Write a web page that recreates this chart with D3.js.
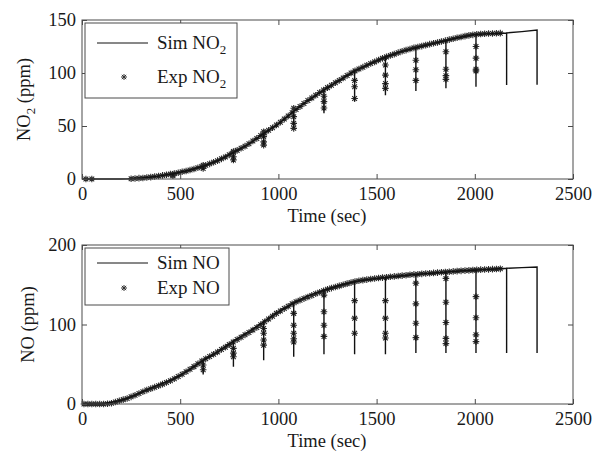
<!DOCTYPE html>
<html>
<head>
<meta charset="utf-8">
<script src="https://cdn.jsdelivr.net/npm/d3@7"></script>
<style>
  body { margin: 0; background: #fff; }
</style>
</head>
<body>
<main></main>
<script>
const width = 592, height = 451;

// x axis (both panels)
const xTicks = [0, 500, 1000, 1500, 2000, 2500];
const yTicksNO2 = [0, 50, 100, 150];
const yTicksNO = [0, 100, 200];

// simulated curves (ppm)
const simTime = [0, 100, 200, 250, 310, 380, 463, 540, 617, 700, 771, 850, 925, 1000, 1078, 1150, 1232, 1310, 1388, 1470, 1545, 1620, 1700, 1780, 1853, 1930, 2006, 2080, 2162, 2240, 2317];
const simNO2 = [0, 0, 0, 0.3, 1, 2.5, 5, 8, 12, 18, 25, 33, 43, 52, 64, 74, 84, 93, 102, 109, 115, 120, 124, 127.5, 130.5, 134, 136.5, 137, 137.8, 139, 140.5];
const simNO = [0, 0, 4.5, 9, 15.5, 23, 31, 42, 55, 67, 79, 91, 103.5, 116, 127, 136, 143, 149, 154, 157, 159, 161, 163, 164.5, 166, 167.5, 168.5, 169.5, 170.7, 171.5, 172.3];

// sampling dips of the simulated line
const dropTime = [310, 463, 617, 771, 925, 1078, 1232, 1388, 1545, 1700, 1853, 2006, 2162, 2317];
const dropNO2 = [0.5, 3, 8.5, 16, 32, 48, 62, 73, 79, 83, 85.5, 87, 88.7, 89];
const dropNO = [15.5, 31, 37, 47, 55, 59.5, 62.5, 62.5, 62.5, 64, 64, 64, 64, 64];

// experimental NO2
const expTimeNO2 = [20, 50, 250, 270, 290, 310, 330, 350, 370, 390, 410, 430, 450, 470, 490, 510, 530, 550, 570, 590, 610, 630, 650, 670, 690, 710, 730, 750, 770, 790, 810, 830, 850, 870, 890, 910, 930, 950, 970, 990, 1010, 1030, 1050, 1070, 1090, 1110, 1130, 1150, 1170, 1190, 1210, 1230, 1250, 1270, 1290, 1310, 1330, 1350, 1370, 1390, 1410, 1430, 1450, 1470, 1490, 1510, 1530, 1550, 1570, 1590, 1610, 1630, 1650, 1670, 1690, 1710, 1730, 1750, 1770, 1790, 1810, 1830, 1850, 1870, 1890, 1910, 1930, 1950, 1970, 1990, 2010, 2030, 2050, 2070, 2090, 2110, 2130];
const expNO2 = [0, 0, 0.3, 0.5, 0.8, 1, 1.4, 1.8, 2.3, 2.8, 3.4, 4, 4.6, 5.2, 5.9, 6.8, 7.6, 8.5, 9.5, 10.6, 11.7, 13, 14.3, 15.8, 17.3, 19, 20.8, 22.8, 24.9, 27, 29, 31, 33.3, 35.8, 38.3, 41, 43.5, 46, 48.3, 51, 53.5, 56.5, 59.5, 62.5, 65.5, 68.3, 71.2, 74, 76.5, 79, 81.5, 84, 86.2, 88.5, 90.8, 93, 95.3, 97.6, 100, 102, 103.8, 105.5, 107.3, 109, 110.5, 112.2, 113.8, 115.2, 116.6, 117.8, 119.2, 120.5, 121.6, 122.7, 123.7, 124.5, 125.4, 126.3, 127.2, 128, 128.8, 129.7, 130.5, 131.5, 132.3, 133.2, 134, 134.8, 135.5, 136, 136.5, 136.8, 137, 137.2, 137.3, 137.5, 137.6];
// experimental NO2 taken during the dips
const dipTimeNO2 = [463, 463, 617, 617, 771, 771, 771, 925, 925, 925, 925, 1078, 1078, 1078, 1078, 1232, 1232, 1232, 1388, 1388, 1388, 1545, 1545, 1545, 1545, 1700, 1700, 1700, 1853, 1853, 1853, 1853, 2006, 2006, 2006, 2006];
const dipNO2 = [4, 3, 13, 10, 26, 21, 18, 44.6, 40, 35, 32, 66.7, 58.8, 52.5, 47.8, 78, 73, 67, 93, 87, 76, 107.5, 98, 90, 85.5, 112, 103, 93, 120, 103.6, 97.5, 94, 125, 114, 103.6, 102];

// experimental NO
const expTimeNO = [10, 30, 50, 70, 90, 110, 130, 150, 170, 190, 210, 230, 250, 270, 290, 310, 330, 350, 370, 390, 410, 430, 450, 470, 490, 510, 530, 550, 570, 590, 610, 630, 650, 670, 690, 710, 730, 750, 770, 790, 810, 830, 850, 870, 890, 910, 930, 950, 970, 990, 1010, 1030, 1050, 1070, 1090, 1110, 1130, 1150, 1170, 1190, 1210, 1230, 1250, 1270, 1290, 1310, 1330, 1350, 1370, 1390, 1410, 1430, 1450, 1470, 1490, 1510, 1530, 1550, 1570, 1590, 1610, 1630, 1650, 1670, 1690, 1710, 1730, 1750, 1770, 1790, 1810, 1830, 1850, 1870, 1890, 1910, 1930, 1950, 1970, 1990, 2010, 2030, 2050, 2070, 2090, 2110, 2130];
const expNO = [0, 0, 0, 0, 0, 0, 0.3, 1, 2.5, 4, 5.5, 7, 9, 11, 13.3, 15.5, 17.5, 19.3, 21.2, 23, 25, 27, 29.3, 31.8, 34.5, 37.5, 40.5, 43.8, 47, 50.5, 54, 57, 59.8, 62.5, 65.5, 68.5, 71.5, 74.7, 78, 81, 84, 87, 90, 93, 96.3, 99.8, 103.5, 107, 110.5, 114, 117, 120, 123, 126, 128.5, 130.6, 132.6, 134.6, 136.6, 138.6, 140.5, 142.5, 144.2, 145.8, 147.2, 148.6, 150, 151.4, 152.7, 154, 155, 155.8, 156.5, 157.2, 157.8, 158.4, 159, 159.5, 160, 160.5, 161, 161.5, 162, 162.5, 163, 163.3, 163.7, 164.1, 164.5, 164.9, 165.3, 165.7, 166, 166.4, 166.8, 167.2, 167.5, 167.8, 168.1, 168.4, 168.7, 169, 169.2, 169.4, 169.6, 169.8, 170];
const dipTimeNO = [617, 617, 771, 771, 771, 925, 925, 925, 925, 1078, 1078, 1078, 1078, 1078, 1232, 1232, 1232, 1232, 1388, 1388, 1388, 1545, 1545, 1545, 1545, 1700, 1700, 1700, 1700, 1853, 1853, 1853, 1853, 1853, 2006, 2006, 2006, 2006];
const dipNO = [49, 43, 70, 64, 59.5, 95, 89, 80.5, 74, 114, 99, 89, 82, 78, 137, 116, 99, 85, 130, 108, 89, 130, 108, 89, 83, 152, 126, 101.5, 83.5, 158, 128, 102.5, 82.5, 76, 135, 108.5, 87, 78.5];

const svg = d3.select("main").append("svg")
    .attr("width", width)
    .attr("height", height)
    .style("font-family", "'Liberation Serif', 'Times New Roman', serif");

const fontSize = 18.5;
const font = "'Liberation Serif', 'Times New Roman', serif";
const frameColor = "#4a4a4a";
const textColor = "#1a1a1a";

function asterisk(r) {
  const a = r * 0.72;
  return "M0," + (-r) + "V" + r + "M" + (-r) + ",0H" + r +
      "M" + (-a) + "," + (-a) + "L" + a + "," + a +
      "M" + (-a) + "," + a + "L" + a + "," + (-a);
}

function drawPanel(p) {
  const x = d3.scaleLinear().domain([0, 2500]).range([82, 573]);
  const y = d3.scaleLinear().domain([0, p.yMax]).range([p.bottom, p.top]);
  const g = svg.append("g");

  // sim line with its dips
  const pts = [];
  simTime.forEach(function (t, i) {
    pts.push([t, p.sim[i]]);
    const k = dropTime.indexOf(t);
    if (k >= 0) {
      pts.push([t, p.drops[k]]);
      if (i < simTime.length - 1) pts.push([t, p.sim[i]]);
    }
  });
  const line = d3.line().x(d => x(d[0])).y(d => y(d[1]));

  // experimental asterisks
  const exp = p.expT.map((t, i) => [t, p.expV[i]])
      .concat(p.dipT.map((t, i) => [t, p.dipV[i]]));
  g.append("g").selectAll("path").data(exp).enter().append("path")
      .attr("d", asterisk(3.3))
      .attr("transform", d => "translate(" + x(d[0]) + "," + y(d[1]) + ")")
      .attr("fill", "none")
      .attr("stroke", "#2a2a2a")
      .attr("stroke-width", 1.1);

  g.append("path")
      .attr("d", line(pts))
      .attr("fill", "none")
      .attr("stroke", "#111")
      .attr("stroke-width", 1.4);

  // frame + inward ticks
  const fmt = d3.format("d");
  const xb = g.append("g").attr("transform", "translate(0," + p.bottom + ")")
      .call(d3.axisBottom(x).tickValues(xTicks).tickFormat(fmt).tickSizeInner(-5).tickSizeOuter(0).tickPadding(8));
  const xt = g.append("g").attr("transform", "translate(0," + p.top + ")")
      .call(d3.axisTop(x).tickValues(xTicks).tickSizeInner(-5).tickSizeOuter(0).tickFormat(""));
  const yl = g.append("g").attr("transform", "translate(82,0)")
      .call(d3.axisLeft(y).tickValues(p.yTicks).tickFormat(fmt).tickSizeInner(-5).tickSizeOuter(0).tickPadding(6));
  const yr = g.append("g").attr("transform", "translate(573,0)")
      .call(d3.axisRight(y).tickValues(p.yTicks).tickSizeInner(-5).tickSizeOuter(0).tickFormat(""));
  [xb, xt, yl, yr].forEach(function (a) {
    a.attr("font-family", font).attr("font-size", fontSize);
    a.select(".domain").remove();
    a.selectAll("line").attr("stroke", frameColor);
    a.selectAll("text").attr("fill", textColor);
  });

  g.append("rect")
      .attr("x", 82).attr("y", p.top)
      .attr("width", 573 - 82).attr("height", p.bottom - p.top)
      .attr("fill", "none").attr("stroke", frameColor).attr("stroke-width", 1);

  // axis titles
  g.append("text")
      .attr("x", 327).attr("y", p.bottom + 43)
      .attr("text-anchor", "middle")
      .attr("font-family", font)
      .attr("font-size", fontSize)
      .attr("fill", textColor)
      .text("Time (sec)");

  const yt = g.append("text")
      .attr("transform", "translate(" + p.yLabelX + "," + (p.top + p.bottom) / 2 + ") rotate(-90)")
      .attr("text-anchor", "middle")
      .attr("font-family", font)
      .attr("font-size", fontSize)
      .attr("fill", textColor);
  yt.append("tspan").text("NO");
  if (p.sub) {
    yt.append("tspan").attr("dy", 5).attr("font-size", 13).text("2");
    yt.append("tspan").attr("dy", -5).text(" (ppm)");
  } else {
    yt.append("tspan").text(" (ppm)");
  }

  // legend
  const lg = g.append("g").attr("transform", "translate(85," + (p.top + 3) + ")");
  lg.append("rect")
      .attr("width", p.legendW).attr("height", p.legendH)
      .attr("fill", "#fff").attr("stroke", frameColor).attr("stroke-width", 1);
  const rows = [["Sim NO", p.legendRow1], ["Exp NO", p.legendRow2]];
  rows.forEach(function (r) {
    const t = lg.append("text")
        .attr("x", 72).attr("y", r[1] + 6)
        .attr("font-family", font)
        .attr("font-size", fontSize + 0.5)
        .attr("fill", textColor);
    t.append("tspan").text(r[0]);
    if (p.sub) t.append("tspan").attr("dy", 5).attr("font-size", 13).text("2");
  });
  lg.append("line")
      .attr("x1", 12).attr("x2", 63)
      .attr("y1", p.legendRow1).attr("y2", p.legendRow1)
      .attr("stroke", "#111").attr("stroke-width", 1);
  lg.append("path")
      .attr("d", asterisk(3))
      .attr("transform", "translate(39," + p.legendRow2 + ")")
      .attr("fill", "none").attr("stroke", "#333");
}

drawPanel({
  top: 20, bottom: 179, yMax: 150, yTicks: yTicksNO2,
  sim: simNO2, drops: dropNO2,
  expT: expTimeNO2, expV: expNO2, dipT: dipTimeNO2, dipV: dipNO2,
  sub: true, yLabelX: 30,
  legendW: 152, legendH: 75, legendRow1: 20, legendRow2: 54
});

drawPanel({
  top: 245, bottom: 404, yMax: 200, yTicks: yTicksNO,
  sim: simNO, drops: dropNO,
  expT: expTimeNO, expV: expNO, dipT: dipTimeNO, dipV: dipNO,
  sub: false, yLabelX: 34,
  legendW: 144, legendH: 57, legendRow1: 15, legendRow2: 40
});
</script>
</body>
</html>
